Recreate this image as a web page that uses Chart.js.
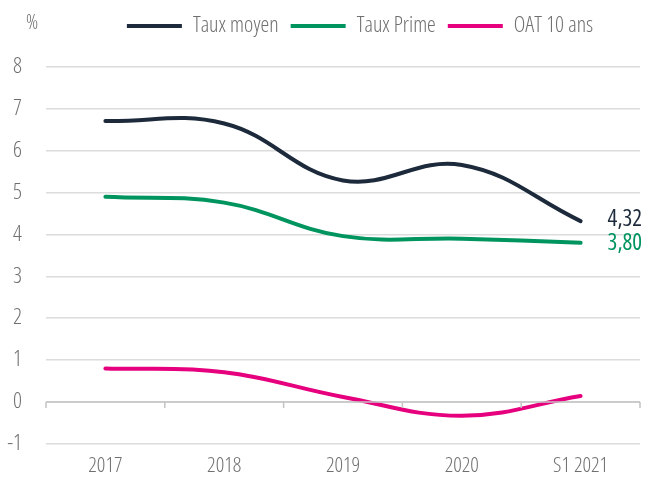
<!DOCTYPE html>
<html lang="fr">
<head>
    <meta charset="UTF-8">
    <script src="https://cdn.jsdelivr.net/npm/chart.js"></script>
    <title>Taux</title>
    <style>
        html, body { margin: 0; padding: 0; background: #fff; }
        #wrap { width: 660px; height: 481px; position: relative; }
    </style>
</head>
<body>
    <div id="wrap"><canvas id="chart"></canvas></div>

    <script>
        // données
        const categories = ['2017', '2018', '2019', '2020', 'S1 2021'];
        const tauxMoyen = [6.71, 6.65, 5.29, 5.66, 4.32];
        const tauxPrime = [4.90, 4.76, 3.96, 3.90, 3.80];
        const oat10ans = [0.80, 0.71, 0.12, -0.33, 0.14];
        const endLabels = ['4,32', '3,80'];

        const FONT = "'Open Sans', sans-serif";
        const LIGHT = '300 condensed'; // passe dans la chaine font du canvas
        const GREY = '#6f6f6f';

        // petit decalage de la legende + axe a zero + etiquettes de fin
        const extras = {
            id: 'extras',
            beforeInit(chart) {
                const fit = chart.legend.fit;
                chart.legend.fit = function () {
                    fit.bind(chart.legend)();
                    this.height += 20;
                };
            },
            afterLayout(chart) {
                const lg = chart.legend;
                lg.left += 40;
                lg.right += 40;
                (lg.legendHitBoxes || []).forEach(b => { b.left += 40; });
            },
            afterDraw(chart) {
                const ctx = chart.ctx;
                const y = chart.scales.y;
                const a = chart.chartArea;
                const y0 = y.getPixelForValue(0);
                ctx.save();
                ctx.strokeStyle = '#c4c4c4';
                ctx.lineWidth = 1.5;
                ctx.beginPath();
                ctx.moveTo(a.left, y0);
                ctx.lineTo(a.right, y0);
                const step = (a.right - a.left) / categories.length;
                for (let i = 0; i <= categories.length; i++) {
                    const px = a.left + i * step;
                    ctx.moveTo(px, y0);
                    ctx.lineTo(px, y0 + 6);
                }
                ctx.stroke();

                // "%"
                ctx.fillStyle = GREY;
                ctx.font = LIGHT + ' 20px ' + FONT;
                ctx.textAlign = 'center';
                ctx.textBaseline = 'middle';
                ctx.fillText('%', 32, 23);

                // valeurs finales
                ctx.font = 'condensed 23px ' + FONT;
                ctx.textAlign = 'left';
                [0, 1].forEach(i => {
                    const pt = chart.getDatasetMeta(i).data[categories.length - 1];
                    ctx.fillStyle = chart.data.datasets[i].borderColor;
                    ctx.fillText(endLabels[i], pt.x + 27, pt.y - (i === 0 ? 2 : -1));
                });
                ctx.restore();
            }
        };

        const line = (label, data, color) => ({
            label: label,
            data: data,
            borderColor: color,
            backgroundColor: color,
            borderWidth: 4,
            borderCapStyle: 'round',
            pointRadius: 0,
            tension: 0.4,
            fill: false
        });

        new Chart(document.getElementById('chart'), {
            type: 'line',
            data: {
                labels: categories,
                datasets: [
                    line('Taux moyen', tauxMoyen, '#1c2a3b'),
                    line('Taux Prime', tauxPrime, '#00945f'),
                    line('OAT 10 ans', oat10ans, '#e6007e')
                ]
            },
            options: {
                responsive: true,
                maintainAspectRatio: false,
                animation: false,
                layout: { padding: { top: 3, right: 20, left: 0, bottom: 0 } },
                plugins: {
                    legend: {
                        position: 'top',
                        labels: {
                            usePointStyle: true,
                            pointStyle: 'line',
                            pointStyleWidth: 55,
                            padding: 12,
                            color: GREY,
                            font: { family: FONT, size: 22, weight: LIGHT }
                        }
                    },
                    tooltip: { enabled: false }
                },
                scales: {
                    x: {
                        offset: true,
                        afterFit(s) { s.height = 37; },
                        grid: { display: false, drawTicks: false },
                        border: { display: false },
                        ticks: {
                            color: GREY,
                            padding: 10,
                            font: { family: FONT, size: 21, weight: LIGHT }
                        }
                    },
                    y: {
                        min: -1,
                        max: 8,
                        afterFit(s) { s.width = 46; },
                        grid: { color: '#dcdcdc', lineWidth: 1.5, drawTicks: false },
                        border: { display: false },
                        ticks: {
                            stepSize: 1,
                            padding: 24,
                            color: GREY,
                            font: { family: FONT, size: 22, weight: LIGHT }
                        }
                    }
                }
            },
            plugins: [extras]
        });
    </script>
</body>
</html>
